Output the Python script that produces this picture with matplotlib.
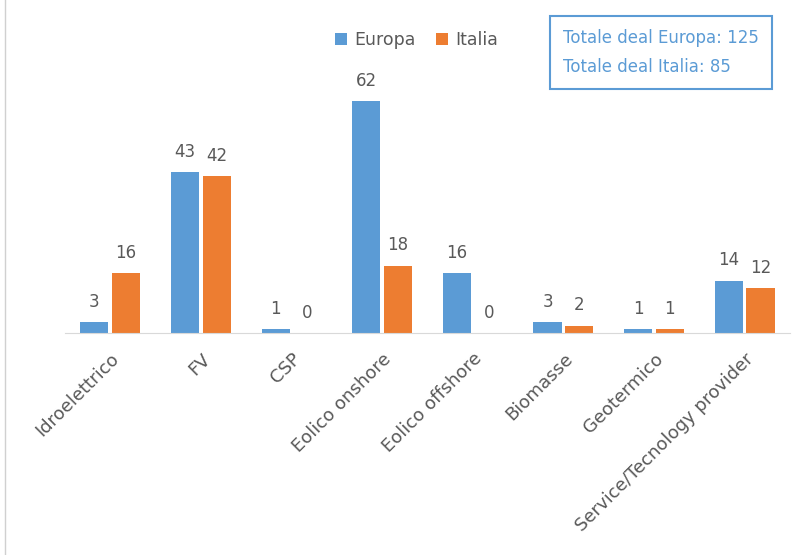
import matplotlib.pyplot as plt
import numpy as np

categorie = ["Idroelettrico", "FV", "CSP", "Eolico onshore", "Eolico offshore",
             "Biomasse", "Geotermico", "Service/Tecnology provider"]
europa = [3, 43, 1, 62, 16, 3, 1, 14]
italia = [16, 42, 0, 18, 0, 2, 1, 12]

blu = "#5B9BD5"
arancio = "#ED7D31"
grigio = "#595959"

fig = plt.figure(figsize=(8.02, 5.55), dpi=100)
ax = fig.add_axes([0.081, 0.4, 0.904, 0.528])

x = np.arange(len(categorie))
w = 0.31
b1 = ax.bar(x - w / 2 - 0.02, europa, w, color=blu, label="Europa")
b2 = ax.bar(x + w / 2 + 0.02, italia, w, color=arancio, label="Italia")

for barre in (b1, b2):
    for r in barre:
        ax.text(r.get_x() + r.get_width() / 2, r.get_height() + 3.0,
                f"{int(r.get_height())}", ha="center", va="bottom",
                fontsize=12, color=grigio)

ax.set_xlim(-0.5, len(categorie) - 0.5)
ax.set_ylim(0, 78.3)
ax.set_yticks([])
ax.set_xticks(x)
ax.set_xticklabels(categorie, rotation=45, ha="right", rotation_mode="anchor",
                   fontsize=13, color=grigio)
ax.tick_params(axis="x", length=0, pad=12)
for s in ["top", "right", "left"]:
    ax.spines[s].set_visible(False)
ax.spines["bottom"].set_color("#D9D9D9")

ax.legend(loc="upper center", bbox_to_anchor=(0.485, 1.085), ncol=2, frameon=False,
          fontsize=12.5, handlelength=0.7, handleheight=0.7, columnspacing=1.2,
          handletextpad=0.4, labelcolor=grigio)

fig.text(0.702, 0.905, "Totale deal Europa: 125\nTotale deal Italia: 85",
         fontsize=12, color=blu, va="center", ha="left", linespacing=1.75,
         bbox=dict(boxstyle="square,pad=0.8", fc="white", ec=blu, lw=1.5))

fig.add_artist(plt.Line2D([0.006, 0.006], [0, 1], color="#D0D0D0", lw=1))

fig.savefig("out.png", dpi=100)
